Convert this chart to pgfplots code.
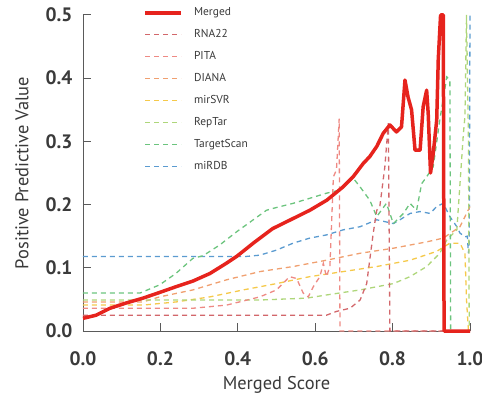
\documentclass[border=0pt]{standalone}
\usepackage{fontspec}
\setmainfont{PT Sans}
\usepackage{pgfplots}
\pgfplotsset{compat=1.18}

\definecolor{txt}{HTML}{3A3A3A}
\definecolor{axc}{HTML}{5A5A5A}
\definecolor{cMerged}{HTML}{E6231D}
\definecolor{cRNA}{HTML}{D2676B}
\definecolor{cPITA}{HTML}{EE8A84}
\definecolor{cDIANA}{HTML}{F0A070}
\definecolor{cSVR}{HTML}{F5C94A}
\definecolor{cRep}{HTML}{AED67A}
\definecolor{cTS}{HTML}{6CC47E}
\definecolor{cDB}{HTML}{5B9BD0}

\begin{document}
\begin{tikzpicture}
\begin{axis}[
  scale only axis, width=387bp, height=316bp,
  xmin=0, xmax=1, ymin=0, ymax=0.5,
  clip=false,
  axis x line*=bottom, axis y line*=left,
  axis line style={draw=axc, line width=1pt},
  tick align=inside, major tick length=8bp,
  tick style={axc, line width=1pt},
  xtick={0,0.2,0.4,0.6,0.8,1}, ytick={0,0.1,0.2,0.3,0.4,0.5},
  /pgf/number format/.cd, fixed, fixed zerofill, precision=1, assume math mode=true,
  /pgfplots/.cd,
  ticklabel style={font=\bfseries\fontsize{19.5}{19.5}\selectfont, text=txt},
  xticklabel style={yshift=-17bp},
  yticklabel style={xshift=-7bp},
  label style={font=\fontsize{18.5}{19}\selectfont, text=txt},
  xlabel={Merged Score}, ylabel={Positive Predictive Value},
  xlabel style={at={(axis description cs:0.5,-0.171)}, anchor=center},
  ylabel style={at={(axis description cs:-0.158,0.5)}, anchor=center},
  legend style={draw=none, fill=none, at={(0.147,1.04)}, anchor=north west,
    font=\fontsize{11.5}{12}\selectfont, text=txt, row sep=6bp,
    nodes={inner sep=2bp, text height=9bp, text depth=3bp},
    /tikz/every odd column/.append style={column sep=9bp}},
  legend cell align=left,
  legend image code/.code={\draw[#1] (0bp,0bp) -- (36bp,0bp);},
  every axis plot/.append style={line width=1.3bp, dash pattern=on 5bp off 4bp},
]
\addlegendimage{cMerged, line width=4bp, solid}\addlegendentry{Merged}
\addlegendimage{cRNA, line width=1.6bp}\addlegendentry{RNA22}
\addlegendimage{cPITA, line width=1.6bp}\addlegendentry{PITA}
\addlegendimage{cDIANA, line width=1.6bp}\addlegendentry{DIANA}
\addlegendimage{cSVR, line width=1.6bp}\addlegendentry{mirSVR}
\addlegendimage{cRep, line width=1.6bp}\addlegendentry{RepTar}
\addlegendimage{cTS, line width=1.6bp}\addlegendentry{TargetScan}
\addlegendimage{cDB, line width=1.6bp}\addlegendentry{miRDB}

% miRDB
\addplot[cDB, forget plot] coordinates {(0,0.118) (0.422,0.118) (0.457,0.12) (0.5,0.128) (0.543,0.139) (0.586,0.147) (0.629,0.152) (0.672,0.16) (0.716,0.165) (0.759,0.176) (0.802,0.17) (0.819,0.176) (0.845,0.186) (0.871,0.189) (0.897,0.186) (0.914,0.197) (0.931,0.202) (0.948,0.181) (0.966,0.165) (0.974,0.155) (0.987,0.149) (0.993,0.15) (0.996,0.123) (0.998,0.14) (1.0,0.5)};
% DIANA
\addplot[cDIANA, forget plot] coordinates {(0,0.046) (0.155,0.046) (0.198,0.054) (0.284,0.065) (0.371,0.081) (0.457,0.094) (0.543,0.102) (0.629,0.112) (0.716,0.123) (0.802,0.131) (0.888,0.141) (0.931,0.147) (0.974,0.165) (1.0,0.197)};
% mirSVR
\addplot[cSVR, forget plot] coordinates {(0,0.041) (0.155,0.041) (0.241,0.046) (0.328,0.054) (0.414,0.065) (0.5,0.075) (0.586,0.086) (0.672,0.094) (0.759,0.102) (0.845,0.112) (0.914,0.126) (0.948,0.139) (0.974,0.139) (0.987,0.123) (0.991,0.049) (0.996,0)};
% RepTar
\addplot[cRep, forget plot] coordinates {(0,0.049) (0.328,0.049) (0.457,0.049) (0.578,0.052) (0.629,0.057) (0.716,0.065) (0.802,0.075) (0.845,0.086) (0.888,0.102) (0.922,0.123) (0.94,0.144) (0.966,0.16) (0.983,0.313) (0.987,0.34) (0.991,0.5) (0.996,0.3) (0.998,0)};
% TargetScan
\addplot[cTS, forget plot] coordinates {(0,0.06) (0.147,0.06) (0.198,0.073) (0.24,0.091) (0.284,0.115) (0.31,0.119) (0.353,0.136) (0.397,0.157) (0.44,0.176) (0.474,0.191) (0.491,0.194) (0.543,0.202) (0.586,0.21) (0.629,0.218) (0.664,0.223) (0.698,0.242) (0.716,0.228) (0.741,0.207) (0.759,0.181) (0.784,0.202) (0.802,0.17) (0.828,0.186) (0.845,0.202) (0.862,0.191) (0.875,0.233) (0.888,0.244) (0.905,0.26) (0.922,0.334) (0.94,0.402) (0.948,0.397) (0.95,0) (1,0)};
% PITA
\addplot[cPITA, forget plot] coordinates {(0,0.036) (0.284,0.036) (0.371,0.041) (0.457,0.054) (0.5,0.065) (0.534,0.086) (0.552,0.083) (0.569,0.06) (0.582,0.054) (0.595,0.07) (0.612,0.086) (0.621,0.107) (0.629,0.086) (0.638,0.102) (0.647,0.244) (0.655,0.255) (0.662,0.336) (0.664,0) (1,0)};
% RNA22
\addplot[cRNA, forget plot] coordinates {(0,0.025) (0.629,0.025) (0.655,0.031) (0.69,0.036) (0.716,0.049) (0.733,0.075) (0.75,0.155) (0.759,0.191) (0.767,0.197) (0.78,0.26) (0.789,0.329) (0.793,0) (1,0)};
% Merged
\addplot[cMerged, solid, line width=3.5bp, line join=round, forget plot] coordinates {(0,0.02) (0.034,0.025) (0.07,0.036) (0.11,0.044) (0.155,0.052) (0.198,0.061) (0.24,0.07) (0.284,0.079) (0.328,0.091) (0.37,0.107) (0.397,0.118) (0.44,0.139) (0.49,0.162) (0.543,0.178) (0.586,0.191) (0.63,0.207) (0.672,0.228) (0.698,0.244) (0.724,0.265) (0.741,0.276) (0.759,0.292) (0.776,0.313) (0.793,0.326) (0.81,0.315) (0.823,0.323) (0.832,0.397) (0.84,0.37) (0.849,0.35) (0.858,0.286) (0.871,0.286) (0.879,0.355) (0.888,0.381) (0.892,0.344) (0.898,0.25) (0.905,0.281) (0.914,0.334) (0.918,0.43) (0.924,0.5) (0.931,0.5) (0.933,0) (1.0,0)};
\end{axis}
\pgfresetboundingbox
\path[use as bounding box] ([xshift=-83bp,yshift=-72bp]current axis.south west) rectangle ([xshift=12bp,yshift=15bp]current axis.north east);
\end{tikzpicture}
\end{document}
